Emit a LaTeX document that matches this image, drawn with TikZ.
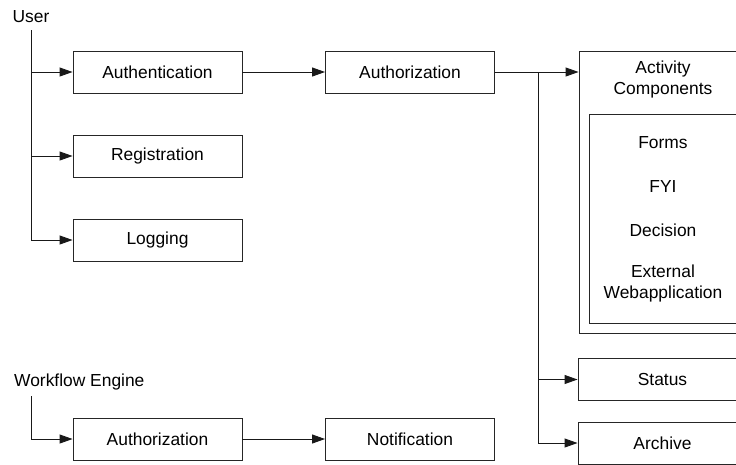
\documentclass[tikz,border=0pt]{standalone}
\usepackage{fontspec}
\setmainfont{Liberation Sans}
\usetikzlibrary{arrows.meta}
\begin{document}
\begin{tikzpicture}[x=1pt,y=-1pt,
  every node/.style={font=\fontsize{17.4}{21}\selectfont, inner sep=0pt},
  box/.style={draw=black!85, line width=0.9pt, minimum width=169pt, minimum height=42pt, align=center},
  frame/.style={draw=black!85, line width=0.9pt},
  lbl/.style={align=center},
  conn/.style={draw=black!90, line width=0.9pt},
  arr/.style={conn, -{Triangle[length=13pt,width=9pt]}}]
\clip (0,0) rectangle (736,464);
\fill[white] (0,0) rectangle (736,464);
% labels
\node[lbl] (user) at (31,17) {User};
\node[anchor=west] (wf) at (14,382) {Workflow Engine};
\coordinate (userend) at (31,240);
\coordinate (wfend) at (31,439);
% left column
\node[box] (authn) at (157.5,72) {Authentication};
\node[box] (reg) at (157.5,156) {Registration};
\node[box] (log) at (157.5,240) {Logging};
\node[box] (authz) at (410,72) {Authorization};
\node[box] (wauthz) at (157.5,439) {Authorization};
\node[box] (notif) at (410,439) {Notification};
% activity components
\node[frame, minimum width=169pt, minimum height=282pt] (act) at (663.5,192) {};
\node[lbl] (actlbl) at (663,79) {Activity\\Components};
\node[frame, minimum width=149pt, minimum height=209pt] (inner) at (663.5,218.5) {};
\node[lbl] (forms) at (663,143) {Forms};
\node[lbl] (fyi) at (663,187) {FYI};
\node[lbl] (dec) at (663,230) {Decision};
\node[lbl] (ext) at (663,283) {External\\Webapplication};
\node[box] (status) at (662.5,379.5) {Status};
\node[box] (archive) at (662.5,443) {Archive};
% connectors
\coordinate (ut) at (31,30);
\draw[conn] (ut) -- (userend);
\draw[arr] (31,72) -- (authn.west);
\draw[arr] (31,156) -- (reg.west);
\draw[arr] (userend) -- (log.west);
\draw[arr] (authn.east) -- (authz.west);
\coordinate (br) at (538,72);
\draw[arr] (authz.east) -- (act.west |- br);
\draw[conn] (br) -- (538,443);
\draw[arr] (538,379.5) -- (status.west);
\draw[arr] (538,443) -- (archive.west);
\coordinate (wt) at (31,396);
\draw[arr] (wt) -- (wfend) -- (wauthz.west);
\draw[arr] (wauthz.east) -- (notif.west);
\end{tikzpicture}
\end{document}
